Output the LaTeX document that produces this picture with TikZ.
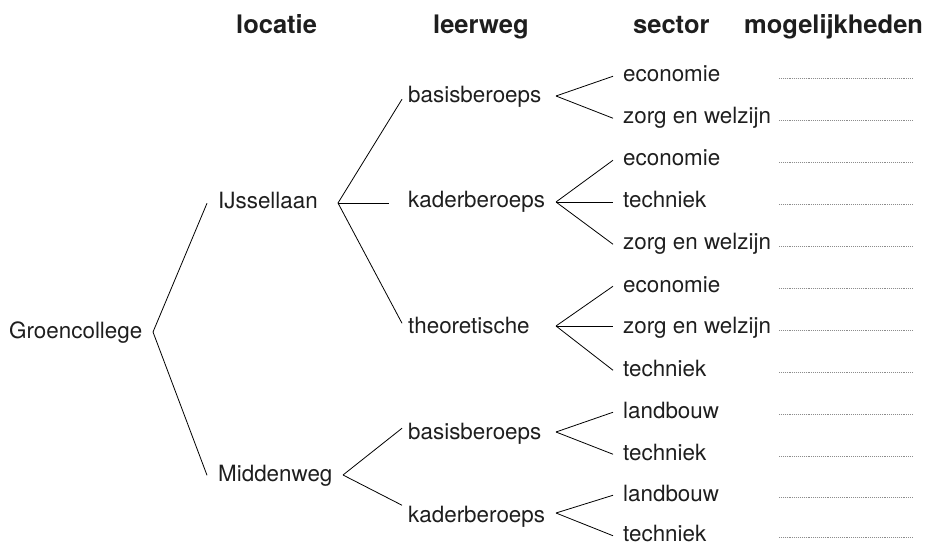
\documentclass[tikz,border=0pt]{standalone}
\usepackage{fontspec}
\setmainfont{TeX Gyre Heros}
\usetikzlibrary{calc}
\definecolor{ink}{HTML}{1E1E1E}
\definecolor{dotc}{HTML}{8C8C8C}
\begin{document}
\begin{tikzpicture}[x=1pt,y=-1pt,
  lbl/.style={anchor=base west, font=\fontsize{22.4}{26}\selectfont, text=ink,
              inner ysep=0pt, text height=16pt, text depth=4.5pt},
  hdr/.style={anchor=base west, font=\fontsize{25.5}{30}\selectfont\bfseries, text=ink, inner sep=0pt},
  root/.style={lbl, inner xsep=0pt},
  loc/.style={lbl, inner xsep=11pt},
  lw/.style={lbl, inner xsep=6pt},
  sec/.style={lbl, inner xsep=10pt},
  conn/.style={draw=black, line width=0.8pt},
  blank/.style={draw=dotc, line width=0.7pt, dash pattern=on 0.8pt off 1.1pt}]
\useasboundingbox (0,0) rectangle (926,545);

% headers
\node[hdr] (h1) at (236,33.5) {locatie};
\node[hdr] (h2) at (433,33.5) {leerweg};
\node[hdr] (h3) at (633,33.5) {sector};
\node[hdr] (h4) at (744,33.5) {mogelijkheden};

% root and locations
\node[root] (g) at (9,338) {Groencollege};
\node[loc] (ij) at (207,209) {IJssellaan};
\node[loc] (mw) at (207,481) {Middenweg};

% leerweg
\node[lw] (bb1) at (402,103) {basisberoeps};
\node[lw] (kb1) at (402,208) {kaderberoeps};
\node[lw] (th)  at (402,333) {theoretische};
\node[lw] (bb2) at (402,439) {basisberoeps};
\node[lw] (kb2) at (402,522) {kaderberoeps};

% sectors
\node[sec] (s1)  at (613,82)  {economie};
\node[sec] (s2)  at (613,124) {zorg en welzijn};
\node[sec] (s3)  at (613,166) {economie};
\node[sec] (s4)  at (613,208) {techniek};
\node[sec] (s5)  at (613,250) {zorg en welzijn};
\node[sec] (s6)  at (613,292) {economie};
\node[sec] (s7)  at (613,334) {zorg en welzijn};
\node[sec] (s8)  at (613,376) {techniek};
\node[sec] (s9)  at (613,418) {landbouw};
\node[sec] (s10) at (613,460) {techniek};
\node[sec] (s11) at (613,501) {landbouw};
\node[sec] (s12) at (613,541.5) {techniek};

% fork points
\coordinate (ga)   at (153,332);
\coordinate (ija)  at (338,203);
\coordinate (mwa)  at (343,475);
\coordinate (bba1) at (556,96);
\coordinate (kba1) at (556,202);
\coordinate (tha)  at (556,326);
\coordinate (bba2) at (556,432);
\coordinate (kba2) at (556,513);

% connectors
\draw[conn] (ga) -- (ij.west);
\draw[conn] (ga) -- (mw.west);

\draw[conn] (ija) -- ($(bb1.west)+(0,2)$);
\draw[conn, shorten >=13pt] (ija) -- (ija -| kb1.west);
\draw[conn] (ija) -- ($(th.west)+(0,-4)$);
\draw[conn] (mwa) -- ($(bb2.west)+(0,-5)$);
\draw[conn] (mwa) -- ($(kb2.west)+(0,-11)$);

\draw[conn] (bba1) -- (s1.west);
\draw[conn] (bba1) -- (s2.west);
\draw[conn] (kba1) -- (s3.west);
\draw[conn] (kba1) -- (kba1 -| s4.west);
\draw[conn] (kba1) -- (s5.west);
\draw[conn] (tha) -- (s6.west);
\draw[conn] (tha) -- (tha -| s7.west);
\draw[conn] (tha) -- (s8.west);
\draw[conn] (bba2) -- (s9.west);
\draw[conn] (bba2) -- (s10.west);
\draw[conn] (kba2) -- (s11.west);
\draw[conn] (kba2) -- (s12.west);

% answer blanks
\foreach \b in {82,124,166,208,250,292,334,376,418,460,501,541.5}
  \draw[blank] (779,\b-4) -- (913,\b-4);
\end{tikzpicture}
\end{document}
